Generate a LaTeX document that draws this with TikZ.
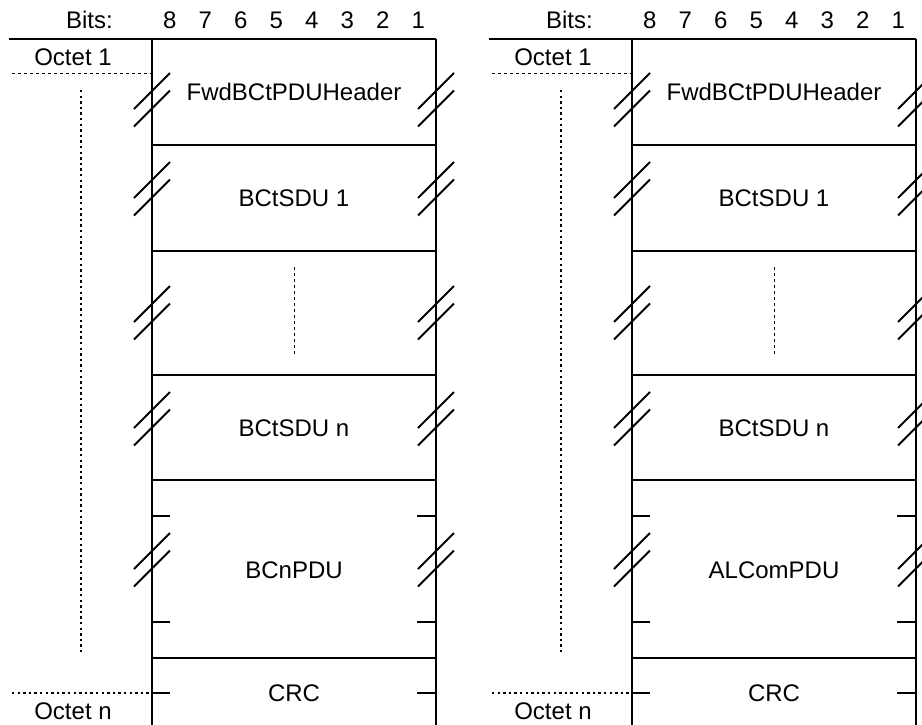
\documentclass[tikz,border=0pt]{standalone}
\usepackage{fontspec}
\setmainfont{Liberation Sans}
\tikzset{
  frame/.style={line width=1.5pt},
  slash/.style={line width=1.4pt},
  thindash/.style={line width=0.7pt,dash pattern=on 2.5pt off 2pt},
  dotline/.style={line width=1.6pt,dash pattern=on 1.8pt off 2.4pt},
  lbl/.style={anchor=base,inner sep=0pt}
}

\begin{document}
\begin{tikzpicture}[x=0.75pt,y=-0.75pt,font=\fontsize{18}{21}\selectfont]
  \useasboundingbox (0,0) rectangle (922,725);
  \foreach \p/\ox/\last in {a/0/BCnPDU, b/480/ALComPDU}{
    \begin{scope}[shift={(\ox,0)}]
      % bit numbering
      \node[lbl,anchor=base east] (bits\p) at (113,28.3) {Bits:};
      \foreach \b in {1,...,8}
        \node[lbl] (bit\p\b) at ({418.25-35.5*(\b-1)},28.3) {\b};
      % frame and rows
      \draw[frame] (9,39) -- (436,39);
      \draw[frame] (152,39) -- (152,730) (436,39) -- (436,730);
      \foreach \y in {145,251,375,480,658}
        \draw[frame] (152,\y) -- (436,\y);
      \foreach \y in {516,622,693}
        \draw[frame] (152,\y) -- ++(18,0) (436,\y) -- ++(-19,0);
      % double slashes on both edges
      \foreach \y in {91,180,304,410,551}
        \foreach \x in {152,436}
          \draw[slash] (\x-18,\y+18) -- ++(36,-36) (\x-18,\y+35.5) -- ++(36,-36);
      % octet range
      \node[lbl] (oct1\p) at (73,65) {Octet 1};
      \node[lbl] (octn\p) at (73,719.3) {Octet n};
      \draw[thindash] (12,73) -- (152,73);
      \draw[dotline] (81,90) -- (81,653);
      \draw[dotline] (12,693) -- (152,693);
      \draw[thindash] (294,267) -- (294,357);
      % field names
      \foreach \i/\y/\t in {1/100.7/FwdBCtPDUHeader, 2/206.7/BCtSDU 1,
          3/436.7/BCtSDU n, 4/578.3/\last, 5/701.7/CRC}
        \node[lbl] (f\p\i) at (294,\y) {\t};
    \end{scope}}
\end{tikzpicture}
\end{document}
